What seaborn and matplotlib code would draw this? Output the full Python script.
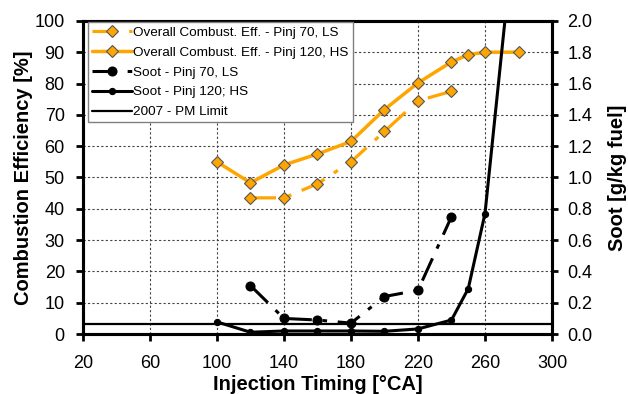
import matplotlib
matplotlib.use("Agg")
import matplotlib.pyplot as plt
import seaborn as sns

# --------------------------
# Data
# --------------------------
# injection timing [°CA]
timing_ls = [120, 140, 160, 180, 200, 220, 240]
timing_hs = [100, 120, 140, 160, 180, 200, 220, 240, 250, 260, 280]

# overall combustion efficiency [%]
eff_ls = [43.5, 43.5, 48.0, 55.0, 64.7, 74.5, 77.5]
eff_hs = [55.0, 48.3, 54.0, 57.5, 61.5, 71.7, 80.2, 86.9, 89.2, 90.0, 90.0]

# soot [g/kg fuel]
soot_ls = [0.31, 0.10, 0.09, 0.07, 0.24, 0.28, 0.75]
soot_hs = [0.078, 0.012, 0.02, 0.02, 0.02, 0.018, 0.033, 0.09, 0.29, 0.77, 2.84]

pm_limit = 0.065

x_ticks = [20, 60, 100, 140, 180, 220, 260, 300]
eff_ticks = [0, 10, 20, 30, 40, 50, 60, 70, 80, 90, 100]
soot_ticks = [0.0, 0.2, 0.4, 0.6, 0.8, 1.0, 1.2, 1.4, 1.6, 1.8, 2.0]

labels = ["Overall Combust. Eff. - Pinj 70, LS",
          "Overall Combust. Eff. - Pinj 120, HS",
          "Soot - Pinj 70, LS",
          "Soot - Pinj 120; HS",
          "2007 - PM Limit"]

# --------------------------
# Style
# --------------------------
sns.set_style("white")
plt.rcParams["font.family"] = ["Liberation Sans", "DejaVu Sans"]
plt.rcParams["text.color"] = "black"
plt.rcParams["axes.labelcolor"] = "black"
plt.rcParams["xtick.color"] = "black"
plt.rcParams["ytick.color"] = "black"

orange = "#FFA500"
dash_dot = (0, (8, 3.5, 1.5, 3.5))

fig = plt.figure(figsize=(6.28, 3.94), dpi=100)
ax = fig.add_axes([0.132, 0.152, 0.747, 0.795])
ax2 = ax.twinx()

# efficiency on the left axis
sns.lineplot(x=timing_ls, y=eff_ls, ax=ax, color=orange, lw=2.3,
             linestyle=dash_dot, marker="D", markersize=6,
             markerfacecolor=orange, markeredgecolor="#555555",
             markeredgewidth=0.8, label=labels[0])
sns.lineplot(x=timing_hs, y=eff_hs, ax=ax, color=orange, lw=2.5,
             marker="D", markersize=6, markerfacecolor=orange,
             markeredgecolor="#555555", markeredgewidth=0.8,
             label=labels[1])

# soot on the right axis
sns.lineplot(x=timing_ls, y=soot_ls, ax=ax2, color="black", lw=2.2,
             linestyle=dash_dot, marker="o", markersize=6.5,
             markeredgecolor="black", label=labels[2])
sns.lineplot(x=timing_hs, y=soot_hs, ax=ax2, color="black", lw=2.2,
             marker="o", markersize=4.5, markeredgecolor="black",
             label=labels[3])
ax2.axhline(pm_limit, color="black", lw=1.6, label=labels[4])

for a in (ax, ax2):
    if a.get_legend() is not None:
        a.get_legend().remove()

# axes ranges / ticks
ax.set_xlim(20, 300)
ax.set_ylim(0, 100)
ax2.set_ylim(0, 2.0)
ax.set_xticks(x_ticks)
ax.set_yticks(eff_ticks)
ax2.set_yticks(soot_ticks)
ax2.set_yticklabels([f"{v:.1f}" for v in soot_ticks])

ax.grid(True, color="#444444", linestyle=(0, (2, 2)), lw=0.8)
ax.set_axisbelow(True)

for a in (ax, ax2):
    for s in a.spines.values():
        s.set_linewidth(2.2)
        s.set_color("black")

ax.tick_params(axis="x", direction="out", length=5, width=2, labelsize=13,
               pad=10, bottom=True)
ax.tick_params(axis="y", direction="out", length=5, width=2,
               labelsize=13, pad=8, left=True)
ax2.tick_params(axis="y", direction="out", length=4, width=2,
                labelsize=13, pad=7, right=True)

ax.set_xlabel("Injection Timing [°CA]", fontsize=14.5, fontweight="bold",
              labelpad=2)
ax.set_ylabel("Combustion Efficiency [%]", fontsize=14.5, fontweight="bold",
              labelpad=1.5)
ax2.set_ylabel("Soot [g/kg fuel]", fontsize=14.5, fontweight="bold",
               labelpad=11)

# combined legend
h1, l1 = ax.get_legend_handles_labels()
h2, l2 = ax2.get_legend_handles_labels()
leg = ax2.legend(h1 + h2, l1 + l2, loc="upper left",
                 bbox_to_anchor=(0.01, 0.995), fontsize=9.7,
                 frameon=True, fancybox=False, framealpha=1,
                 edgecolor="#808080", handlelength=3.0, handletextpad=0.1,
                 labelspacing=0.55, borderpad=0.3, borderaxespad=0)
leg.get_frame().set_linewidth(1.0)

fig.savefig("out.png", dpi=100)
